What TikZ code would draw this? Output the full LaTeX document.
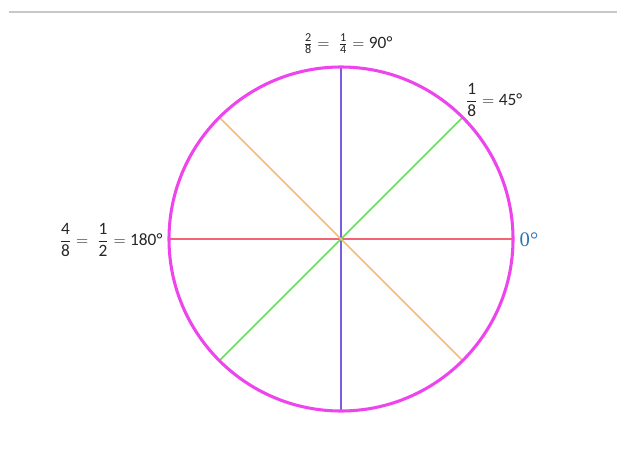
\documentclass[tikz,border=0pt]{standalone}
\usepackage{amsmath}
\usepackage{fontspec}
\setmainfont{Carlito}
\newfontfamily\zerofont{Liberation Serif}
\definecolor{circ}{HTML}{EE44EE}
\definecolor{redl}{HTML}{F06474}
\definecolor{bluel}{HTML}{7B5BE0}
\definecolor{greenl}{HTML}{6ADB62}
\definecolor{orangel}{HTML}{F5BC72}
\definecolor{zeroc}{HTML}{2E75B6}
\definecolor{topline}{HTML}{C8C8C8}
\tikzset{
  ray/.style={line width=1.2pt},
  lbl/.style={inner sep=0pt, font=\fontsize{13}{15}\selectfont, text=black!85}
}
\begin{document}
\begin{tikzpicture}[x=0.75pt,y=-0.75pt]
\useasboundingbox (0,0) rectangle (617,460);
\coordinate (o) at (341,239);
\draw[topline, line width=0.8pt] (9,12) -- (617,12);
\coordinate (e) at (513,239);
\coordinate (w) at (169,239);
\coordinate (n) at (341,67);
\coordinate (s) at (341,411);
\coordinate (ne) at (462.6,117.4);
\coordinate (sw) at (219.4,360.6);
\coordinate (nw) at (219.4,117.4);
\coordinate (se) at (462.6,360.6);
\draw[ray, redl] (w) -- (e);
\draw[ray, bluel] (n) -- (s);
\draw[ray, greenl] (sw) -- (ne);
\draw[ray, orangel] (nw) -- (se);
\draw[circ, line width=2.3pt] (o) circle[radius=172];
\node[lbl] (t90) at (348,44) {$\tfrac{\text{2}}{\text{8}} = \;\tfrac{\text{1}}{\text{4}} = \text{90°}$};
\node[lbl] (t45) at (494,100) {$\dfrac{\text{1}}{\text{8}} = \text{45°}$};
\node[lbl] (t180) at (111,240) {$\dfrac{\text{4}}{\text{8}} = \;\dfrac{\text{1}}{\text{2}} = \text{180°}$};
\node[inner sep=0pt, text=zeroc, font=\zerofont\fontsize{15.5}{18}\selectfont] (t0) at (529,240) {0°};
\end{tikzpicture}
\end{document}
